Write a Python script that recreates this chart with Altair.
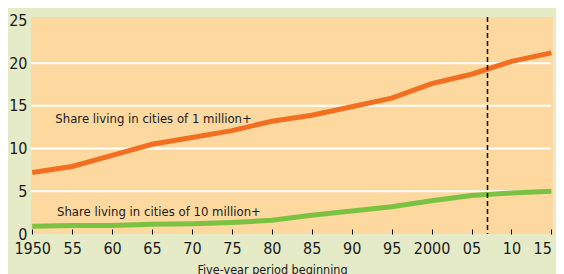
import altair as alt
import pandas as pd

years = [1950, 1955, 1960, 1965, 1970, 1975, 1980, 1985, 1990, 1995, 2000, 2005, 2010, 2015]
share_1m = [7.2, 7.9, 9.2, 10.5, 11.3, 12.1, 13.2, 13.9, 14.9, 15.9, 17.6, 18.7, 20.2, 21.2]
share_10m = [0.9, 1.0, 1.0, 1.15, 1.2, 1.35, 1.6, 2.2, 2.7, 3.2, 3.9, 4.5, 4.8, 5.0]
x_tick_labels = ["1950", "55", "60", "65", "70", "75", "80", "85", "90", "95", "2000", "05", "10", "15"]
y_ticks = [0, 5, 10, 15, 20, 25]
grid_values = [5, 10, 15, 20]
marker_year = [2007]
label_texts = ["Share living in cities of 1 million+", "Share living in cities of 10 million+"]
label_x = [1952.9, 1953.1]
label_y = [13.5, 2.6]

FONT = "Liberation Sans Narrow, DejaVu Sans Condensed, sans-serif"

df = pd.DataFrame({"year": years, "m1": share_1m, "m10": share_10m})
grid_df = pd.DataFrame({"v": grid_values})
mark_df = pd.DataFrame({"year": marker_year})
lab_df = pd.DataFrame({"t": label_texts, "x": label_x, "y": label_y})

label_expr = "{" + ",".join(f"'{y}':'{l}'" for y, l in zip(years, x_tick_labels)) + "}[datum.value]"

xs = alt.Scale(domain=[1949.85, 2015.2], nice=False, zero=False)
ys = alt.Scale(domain=[0, 25.4], nice=False)

x_axis = alt.Axis(values=years, labelExpr=label_expr, domain=False, grid=False,
                  tickSize=5, tickColor="black", tickWidth=1, offset=-5,
                  labelPadding=6, labelFontSize=16, labelFont=FONT, labelColor="#1a1a1a",
                  labelAlign=alt.ExprRef(expr=f"datum.value == {years[-1]} ? 'right' : 'center'"),
                  title="Five-year period beginning", titleFont=FONT, titleFontSize=12.5,
                  titleFontWeight="normal", titleColor="#1a1a1a",
                  titleX=241, titleY=47, titleBaseline="bottom", titleAlign="center",
                  labelFlush=False, labelOverlap=False)
y_axis = alt.Axis(values=y_ticks, domain=False, ticks=False, grid=False,
                  labelPadding=4, labelFontSize=16, labelFont=FONT, labelColor="#1a1a1a",
                  title=None)

base = alt.Chart(df)

grid = alt.Chart(grid_df).mark_rule(color="white", strokeWidth=2).encode(
    y=alt.Y("v:Q", scale=ys, axis=y_axis),
    x=alt.value(0), x2=alt.value(520),
)

line1 = base.mark_line(color="#F26F22", strokeWidth=5).encode(
    x=alt.X("year:Q", scale=xs, axis=x_axis),
    y=alt.Y("m1:Q", scale=ys),
)
line10 = base.mark_line(color="#7CC242", strokeWidth=5).encode(
    x=alt.X("year:Q", scale=xs),
    y=alt.Y("m10:Q", scale=ys),
)
vline = alt.Chart(mark_df).mark_rule(color="black", strokeWidth=1.5, strokeDash=[5, 3]).encode(
    x=alt.X("year:Q", scale=xs),
)
labels = alt.Chart(lab_df).mark_text(align="left", baseline="middle", font=FONT,
                                     fontSize=13, color="#1a1a1a").encode(
    x=alt.X("x:Q", scale=xs),
    y=alt.Y("y:Q", scale=ys),
    text="t:N",
)

chart = alt.layer(grid, line1, line10, vline, labels).properties(
    width=522, height=217,
    background="#E5EBC7",
    padding={"left": 23, "top": 9, "right": 3, "bottom": 40},
    autosize=alt.AutoSizeParams(type="none"),
).configure_view(fill="#FDD9A0", stroke=None)

chart.save("out.html", embed_options={"renderer": "svg", "actions": False})
